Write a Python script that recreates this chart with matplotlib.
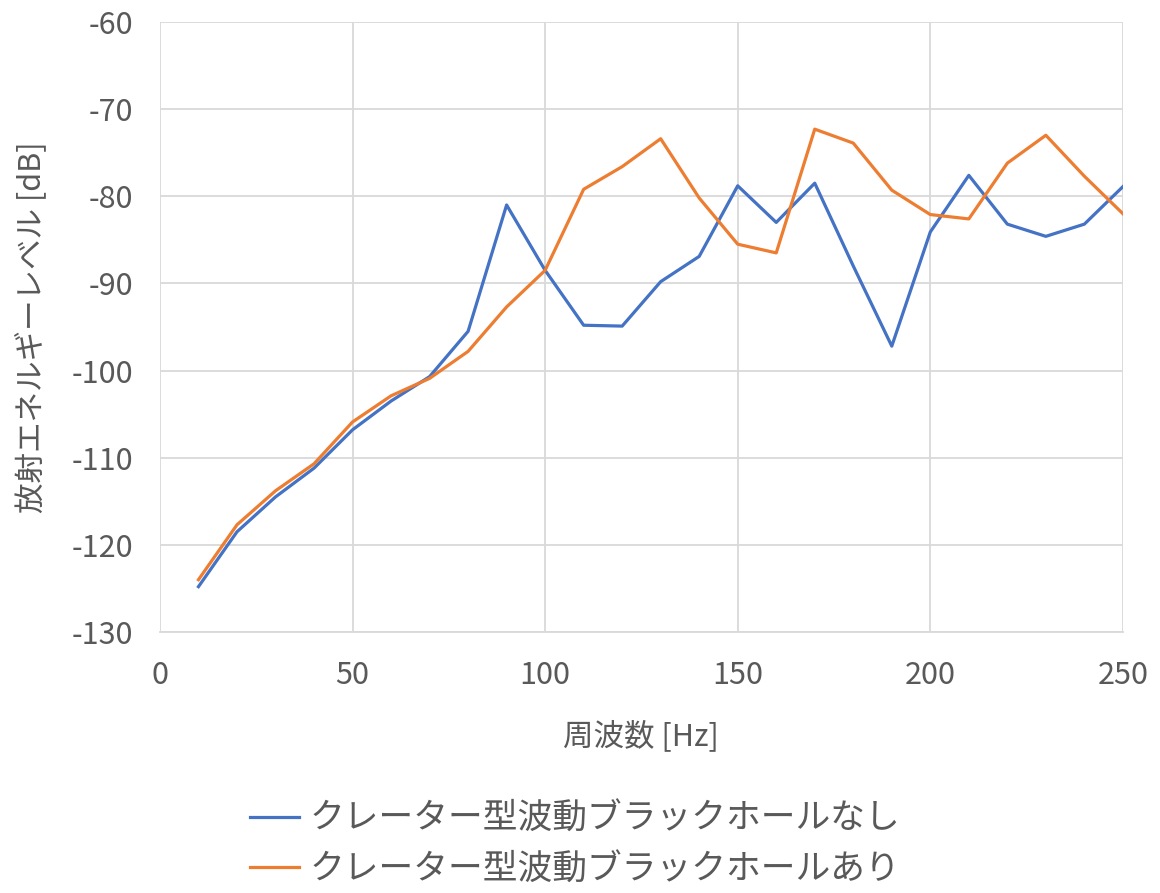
import matplotlib
matplotlib.use("Agg")
import matplotlib.pyplot as plt
from matplotlib.ticker import MultipleLocator

plt.rcParams['font.family'] = ['Noto Sans CJK JP', 'DejaVu Sans']
plt.rcParams['axes.unicode_minus'] = False

freq = [10, 20, 30, 40, 50, 60, 70, 80, 90, 100, 110, 120, 130,
        140, 150, 160, 170, 180, 190, 200, 210, 220, 230, 240, 250]
level_without = [-124.8, -118.5, -114.5, -111.2, -106.8, -103.5, -100.7, -95.5, -81.0,
                 -88.5, -94.8, -94.9, -89.8, -86.9, -78.8, -83.0, -78.5, -88.0,
                 -97.2, -84.1, -77.6, -83.2, -84.6, -83.2, -78.9]
level_with = [-124.0, -117.7, -113.8, -110.7, -105.9, -102.9, -100.9, -97.8, -92.7,
              -88.5, -79.2, -76.6, -73.4, -80.2, -85.5, -86.5, -72.3, -73.9,
              -79.3, -82.1, -82.6, -76.2, -73.0, -77.7, -82.0]
labels = ['クレーター型波動ブラックホールなし', 'クレーター型波動ブラックホールあり']

text_color = '#595959'
grid_color = '#d9d9d9'

fig = plt.figure(figsize=(11.6, 8.93), dpi=100)
ax = fig.add_axes([0.1379, 0.2923, 0.8301, 0.6831])

ax.plot(freq, level_without, color='#4472C4', lw=2.3, label=labels[0])
ax.plot(freq, level_with, color='#ED7D31', lw=2.3, label=labels[1])

ax.set_xlim(0, 250)
ax.set_ylim(-130, -60)
ax.xaxis.set_major_locator(MultipleLocator(50))
ax.yaxis.set_major_locator(MultipleLocator(10))
ax.grid(True, color=grid_color, lw=1.3)
ax.set_axisbelow(True)
for s in ['top', 'right', 'left']:
    ax.spines[s].set_visible(False)
ax.spines['bottom'].set_color(grid_color)
ax.spines['bottom'].set_linewidth(1.3)
ax.tick_params(length=0, labelsize=22, colors=text_color)
ax.tick_params(axis='x', pad=20)
ax.tick_params(axis='y', pad=19)

ax.set_xlabel('周波数 [Hz]', fontsize=22, color=text_color, labelpad=21)
ax.set_ylabel('放射エネルギーレベル [dB]', fontsize=22, color=text_color, labelpad=18)

fig.legend(loc='upper center', bbox_to_anchor=(0.496, 0.1295), ncol=1, frameon=False,
           fontsize=25, labelcolor=text_color, handlelength=1.4, handletextpad=0.3,
           labelspacing=0.45, borderaxespad=0.3)

fig.savefig('out.png', dpi=100)
